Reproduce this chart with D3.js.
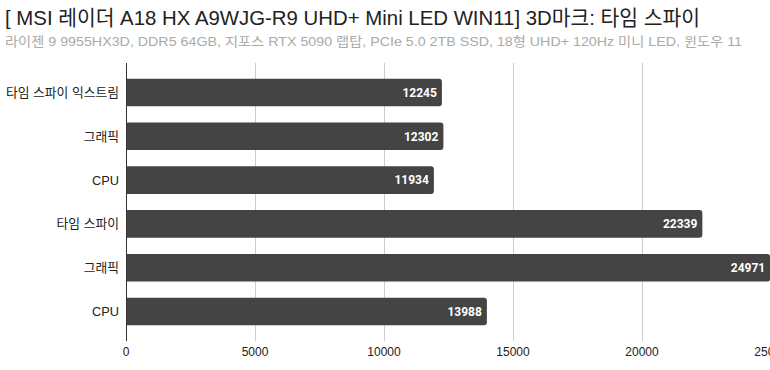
<!DOCTYPE html>
<html>
<head>
<meta charset="utf-8">
<script src="https://cdn.jsdelivr.net/npm/d3@7"></script>
<style>
  body { margin: 0; background: #fff; overflow: hidden; }
  svg { display: block; }
</style>
</head>
<body>
<svg id="chart"></svg>
<script>
// chart data
const titleText = "[ MSI 레이더 A18 HX A9WJG-R9 UHD+ Mini LED WIN11] 3D마크: 타임 스파이";
const subtitleText = "라이젠 9 9955HX3D, DDR5 64GB, 지포스 RTX 5090 랩탑, PCIe 5.0 2TB SSD, 18형 UHD+ 120Hz 미니 LED, 윈도우 11";
const categories = ["타임 스파이 익스트림", "그래픽", "CPU", "타임 스파이", "그래픽", "CPU"];
const scores = [12245, 12302, 11934, 22339, 24971, 13988];
const xTicks = [0, 5000, 10000, 15000, 20000, 25000];

const width = 770, height = 370;
const margin = { top: 63, right: -1, bottom: 29, left: 126 };
const font = "'Liberation Sans', 'Noto Sans CJK KR', sans-serif";

const svg = d3.select("#chart")
  .attr("width", width)
  .attr("height", height);

svg.append("text")
  .attr("x", 5)
  .attr("y", 25)
  .attr("font-family", font)
  .attr("font-size", 21)
  .attr("fill", "#222")
  .attr("textLength", 695)
  .attr("lengthAdjust", "spacingAndGlyphs")
  .text(titleText);

svg.append("text")
  .attr("x", 5)
  .attr("y", 46)
  .attr("font-family", font)
  .attr("font-size", 13)
  .attr("fill", "#aaa")
  .attr("textLength", 737)
  .attr("lengthAdjust", "spacingAndGlyphs")
  .text(subtitleText);

const x = d3.scaleLinear()
  .domain([0, 25000])
  .range([margin.left, 771]);

const y = d3.scaleBand()
  .domain(d3.range(categories.length))
  .range([margin.top, height - margin.bottom])
  .paddingInner(0.37)
  .paddingOuter(0.36);

// gridlines
svg.append("g")
  .selectAll("line")
  .data(xTicks.slice(1))
  .enter()
  .append("line")
  .attr("x1", d => x(d) + 0.5)
  .attr("x2", d => x(d) + 0.5)
  .attr("y1", margin.top)
  .attr("y2", height - margin.bottom)
  .attr("stroke", "#ccc")
  .attr("stroke-width", 1);

// bars, rounded on the right end only
const r = 3;
svg.append("g")
  .selectAll("path")
  .data(scores)
  .enter()
  .append("path")
  .attr("fill", "#444")
  .attr("d", (d, i) => {
    const x0 = x(0), x1 = x(d), y0 = y(i), h = y.bandwidth();
    return `M${x0},${y0}H${x1 - r}Q${x1},${y0} ${x1},${y0 + r}V${y0 + h - r}Q${x1},${y0 + h} ${x1 - r},${y0 + h}H${x0}Z`;
  });

// value labels
svg.append("g")
  .selectAll("text")
  .data(scores)
  .enter()
  .append("text")
  .attr("x", d => x(d) - 5)
  .attr("y", (d, i) => y(i) + y.bandwidth() / 2)
  .attr("dy", "0.35em")
  .attr("text-anchor", "end")
  .attr("font-family", "Roboto, sans-serif")
  .attr("font-weight", "bold")
  .attr("font-size", 12)
  .attr("fill", "#fff")
  .text(d => d);

// category labels
svg.append("g")
  .selectAll("text")
  .data(categories)
  .enter()
  .append("text")
  .attr("x", 119)
  .attr("y", (d, i) => y(i) + y.bandwidth() / 2)
  .attr("dy", "0.35em")
  .attr("text-anchor", "end")
  .attr("font-family", font)
  .attr("font-size", 12.8)
  .attr("fill", "#222")
  .text(d => d);

// zero axis line
svg.append("line")
  .attr("x1", x(0) + 0.5)
  .attr("x2", x(0) + 0.5)
  .attr("y1", margin.top)
  .attr("y2", height - margin.bottom)
  .attr("stroke", "#333");

// tick labels
svg.append("g")
  .selectAll("text")
  .data(xTicks)
  .enter()
  .append("text")
  .attr("x", d => x(d))
  .attr("y", 356)
  .attr("text-anchor", "middle")
  .attr("font-family", font)
  .attr("font-size", 12)
  .attr("fill", "#222")
  .text(d => d);
</script>
</body>
</html>
